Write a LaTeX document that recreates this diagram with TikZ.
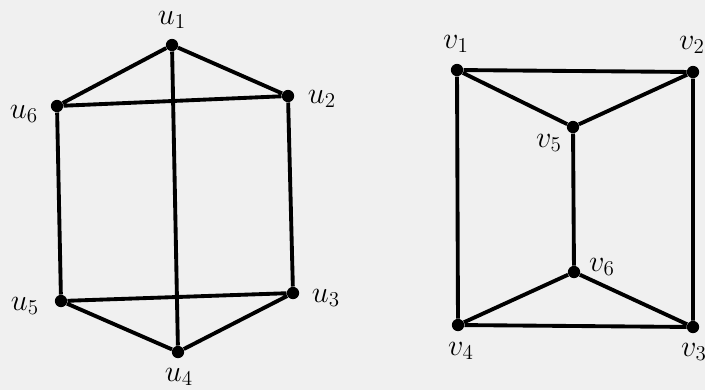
\documentclass[tikz,border=0pt]{standalone}
\begin{document}
\begin{tikzpicture}[x=0.02cm,y=-0.02cm,
  vtx/.style={circle,fill=black,inner sep=0pt,minimum size=7pt},
  lbl/.style={inner sep=0pt,font=\fontsize{17}{20}\selectfont},
  edge/.style={line width=2.2pt}]
\fill[black!6] (0,0) rectangle (705,390);
\useasboundingbox (0,0) rectangle (705,390);
% left graph
\node[vtx] (u1) at (172,45) {};
\node[vtx] (u2) at (288,96) {};
\node[vtx] (u6) at (57,106) {};
\node[vtx] (u5) at (61,301) {};
\node[vtx] (u3) at (293,293) {};
\node[vtx] (u4) at (178,352) {};
\node[lbl] (lu1) at (172,20) {$u_1$};
\node[lbl] (lu2) at (322,99) {$u_2$};
\node[lbl] (lu6) at (24,114) {$u_6$};
\node[lbl] (lu5) at (25,306) {$u_5$};
\node[lbl] (lu3) at (326,298) {$u_3$};
\node[lbl] (lu4) at (179,377) {$u_4$};
\draw[edge] (u1) -- (u6) (u1) -- (u2) (u6) -- (u2) (u1) -- (u4)
  (u6) -- (u5) (u2) -- (u3) (u5) -- (u3) (u5) -- (u4) (u3) -- (u4);
% right graph
\node[vtx] (v1) at (457,70) {};
\node[vtx] (v2) at (693,72) {};
\node[vtx] (v5) at (573,127) {};
\node[vtx] (v6) at (574,272) {};
\node[vtx] (v4) at (458,325) {};
\node[vtx] (v3) at (693,327) {};
\node[lbl] (lv1) at (456,44) {$v_1$};
\node[lbl] (lv2) at (692,45) {$v_2$};
\node[lbl] (lv5) at (549,143) {$v_5$};
\node[lbl] (lv6) at (602,267) {$v_6$};
\node[lbl] (lv4) at (461,351) {$v_4$};
\node[lbl] (lv3) at (694,352) {$v_3$};
\draw[edge] (v1) -- (v2) (v1) -- (v5) (v2) -- (v5) (v5) -- (v6)
  (v1) -- (v4) (v2) -- (v3) (v4) -- (v6) (v3) -- (v6) (v4) -- (v3);
\end{tikzpicture}
\end{document}
